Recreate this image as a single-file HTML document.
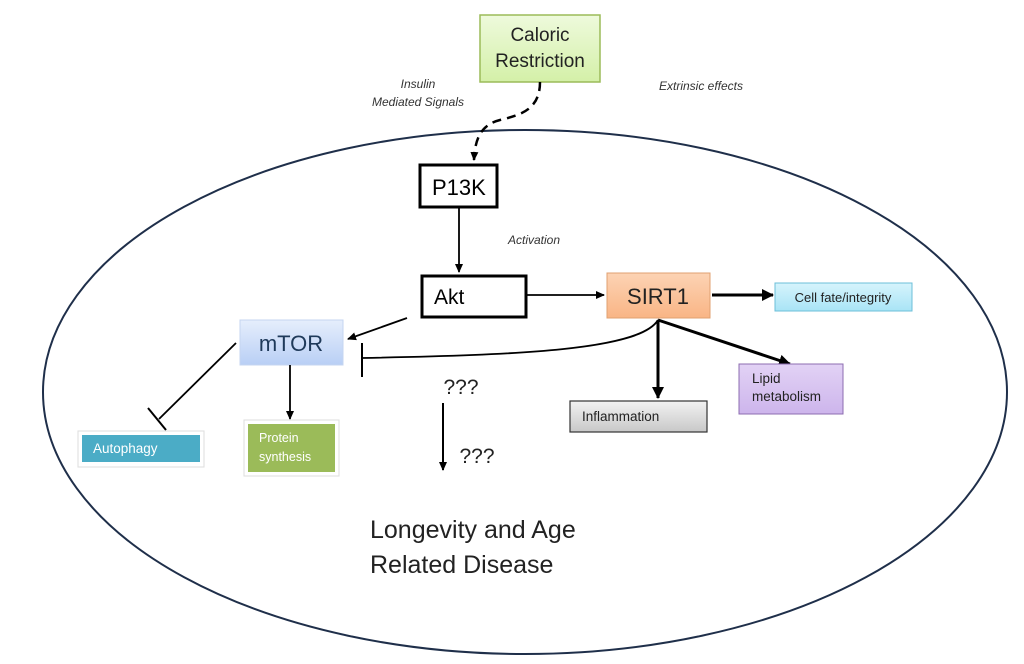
<!DOCTYPE html>
<html><head><meta charset="utf-8"><style>
body{margin:0;background:#fff;width:1024px;height:664px;overflow:hidden}
svg{display:block;font-family:"Liberation Sans","DejaVu Sans",sans-serif}
</style></head><body>
<svg width="1024" height="664" viewBox="0 0 1024 664" xmlns="http://www.w3.org/2000/svg">
<defs>
<marker id="a" markerWidth="10" markerHeight="10" refX="8" refY="5" orient="auto" markerUnits="userSpaceOnUse"><path d="M0,1 L9,5 L0,9 z" fill="#000"/></marker>
<marker id="b" markerWidth="14" markerHeight="14" refX="11" refY="7" orient="auto" markerUnits="userSpaceOnUse"><path d="M0,1 L12,7 L0,13 z" fill="#000"/></marker>
<linearGradient id="gG" x1="0" y1="0" x2="0" y2="1"><stop offset="0" stop-color="#eefadc"/><stop offset="1" stop-color="#d4f0a8"/></linearGradient>
<linearGradient id="gB" x1="0" y1="0" x2="0" y2="1"><stop offset="0" stop-color="#e6eefc"/><stop offset="1" stop-color="#b9cff5"/></linearGradient>
<linearGradient id="gO" x1="0" y1="0" x2="0" y2="1"><stop offset="0" stop-color="#fcd3b4"/><stop offset="1" stop-color="#f9b585"/></linearGradient>
<linearGradient id="gC" x1="0" y1="0" x2="0" y2="1"><stop offset="0" stop-color="#d6f4fc"/><stop offset="1" stop-color="#a9e4f6"/></linearGradient>
<linearGradient id="gGr" x1="0" y1="0" x2="0" y2="1"><stop offset="0" stop-color="#f2f2f2"/><stop offset="1" stop-color="#c8c8c8"/></linearGradient>
<linearGradient id="gP" x1="0" y1="0" x2="0" y2="1"><stop offset="0" stop-color="#e2d2f5"/><stop offset="1" stop-color="#cdb5ec"/></linearGradient>
</defs>
<ellipse cx="525" cy="392" rx="482" ry="262" fill="none" stroke="#1f2f4a" stroke-width="2"/>

<rect x="480" y="15" width="120" height="67" fill="url(#gG)" stroke="#9bbb59" stroke-width="1.5"/>
<text x="540" y="41" font-size="19" text-anchor="middle" fill="#222">Caloric</text>
<text x="540" y="67" font-size="19" text-anchor="middle" fill="#222">Restriction</text>
<text x="418" y="88" font-size="12" font-style="italic" text-anchor="middle" fill="#333">Insulin</text>
<text x="418" y="106" font-size="12" font-style="italic" text-anchor="middle" fill="#333">Mediated  Signals</text>
<text x="701" y="90" font-size="12" font-style="italic" text-anchor="middle" fill="#333">Extrinsic  effects</text>
<path d="M540,82 C540,110 520,115 500,120 C480,125 475,140 474,160" fill="none" stroke="#000" stroke-width="2.5" stroke-dasharray="9,6" marker-end="url(#a)"/>

<rect x="420" y="165" width="77" height="42" fill="#fff" stroke="#000" stroke-width="3"/>
<text x="432" y="195" font-size="22" fill="#000">P13K</text>
<line x1="459" y1="207" x2="459" y2="272" stroke="#000" stroke-width="1.8" marker-end="url(#a)"/>
<text x="534" y="244" font-size="12" font-style="italic" text-anchor="middle" fill="#333">Activation</text>

<rect x="422" y="276" width="104" height="41" fill="#fff" stroke="#000" stroke-width="3"/>
<text x="434" y="304" font-size="21" fill="#000">Akt</text>
<line x1="526" y1="295" x2="604" y2="295" stroke="#000" stroke-width="1.8" marker-end="url(#a)"/>

<rect x="607" y="273" width="103" height="45" fill="url(#gO)" stroke="#e0a070" stroke-width="1"/>
<text x="658" y="304" font-size="22" text-anchor="middle" fill="#222">SIRT1</text>
<line x1="712" y1="295" x2="773" y2="295" stroke="#000" stroke-width="3" marker-end="url(#b)"/>
<rect x="775" y="283" width="137" height="28" fill="url(#gC)" stroke="#6cbfd8" stroke-width="1"/>
<text x="843" y="302" font-size="13" text-anchor="middle" fill="#222">Cell fate/integrity</text>

<line x1="658" y1="320" x2="658" y2="398" stroke="#000" stroke-width="3" marker-end="url(#b)"/>
<line x1="658" y1="320" x2="790" y2="364" stroke="#000" stroke-width="3" marker-end="url(#b)"/>
<path d="M658,320 C640,350 520,355 362,358" fill="none" stroke="#000" stroke-width="1.8"/>
<line x1="362" y1="343" x2="362" y2="377" stroke="#000" stroke-width="2"/>

<rect x="570" y="401" width="137" height="31" fill="url(#gGr)" stroke="#333" stroke-width="1.2"/>
<text x="582" y="421" font-size="13.5" fill="#222">Inflammation</text>
<rect x="739" y="364" width="104" height="50" fill="url(#gP)" stroke="#8c6cb0" stroke-width="1"/>
<text x="752" y="383" font-size="13.5" fill="#222">Lipid</text>
<text x="752" y="401" font-size="13.5" fill="#222">metabolism</text>

<line x1="407" y1="318" x2="348" y2="339" stroke="#000" stroke-width="1.8" marker-end="url(#a)"/>
<rect x="240" y="320" width="103" height="45" fill="url(#gB)" stroke="#c5d5f0" stroke-width="1"/>
<text x="291" y="351" font-size="22" text-anchor="middle" fill="#1f3a5a">mTOR</text>
<line x1="290" y1="365" x2="290" y2="419" stroke="#000" stroke-width="1.8" marker-end="url(#a)"/>
<line x1="236" y1="343" x2="159" y2="419" stroke="#000" stroke-width="1.8"/>
<line x1="148" y1="408" x2="166" y2="430" stroke="#000" stroke-width="2"/>

<rect x="78" y="431" width="126" height="36" fill="#fff" stroke="#ddd" stroke-width="1"/>
<rect x="82" y="435" width="118" height="27" fill="#4bacc6"/>
<text x="93" y="453" font-size="13.5" fill="#fff">Autophagy</text>
<rect x="244" y="420" width="95" height="56" fill="#fff" stroke="#ddd" stroke-width="1"/>
<rect x="248" y="424" width="87" height="48" fill="#9bbb59"/>
<text x="259" y="442" font-size="12.5" fill="#fff">Protein</text>
<text x="259" y="461" font-size="12.5" fill="#fff">synthesis</text>

<text x="461" y="394" font-size="21" text-anchor="middle" fill="#222">???</text>
<line x1="443" y1="403" x2="443" y2="470" stroke="#000" stroke-width="2" marker-end="url(#a)"/>
<text x="477" y="463" font-size="21" text-anchor="middle" fill="#222">???</text>

<text x="370" y="538" font-size="25" fill="#222">Longevity and Age</text>
<text x="370" y="573" font-size="25" fill="#222">Related Disease</text>
</svg>
</body></html>
